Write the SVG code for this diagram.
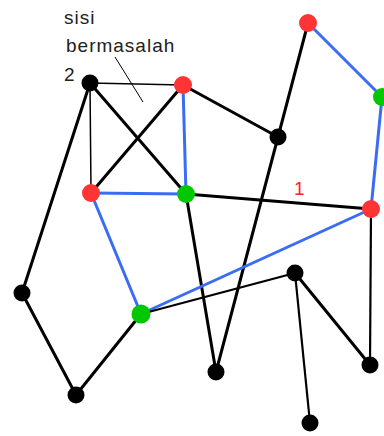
<svg xmlns="http://www.w3.org/2000/svg" width="384" height="436" viewBox="0 0 384 436">
<style>
.e{stroke:#000;stroke-width:3;fill:none;stroke-linecap:round}
.t{stroke:#000;stroke-width:1.5;fill:none}
.m{stroke:#000;stroke-width:2.2;fill:none}
.b{stroke:#3a6cf5;stroke-width:3;fill:none;stroke-linecap:round}
.k{fill:#000}
.r{fill:#ff3535}
.g{fill:#00c800}
.lbl{font-family:"Liberation Sans",Arial,sans-serif;font-size:19px;letter-spacing:1px}
</style>
<rect width="384" height="436" fill="#fff"/>
<g id="connectors">
<line class="t" x1="90" y1="83" x2="183" y2="85"/>
<line class="t" x1="90" y1="83" x2="91" y2="193"/>
<line class="e" x1="90" y1="83" x2="186" y2="194"/>
<line class="e" x1="183" y1="85" x2="91" y2="193"/>
<line class="b" x1="183" y1="85" x2="186" y2="194"/>
<line class="b" x1="91" y1="193" x2="186" y2="194"/>
<line class="e" x1="183" y1="85" x2="278" y2="137"/>
<line class="e" x1="308" y1="23" x2="278" y2="137"/>
<line class="e" x1="278" y1="137" x2="216" y2="372"/>
<line class="e" x1="186" y1="194" x2="216" y2="372"/>
<line class="e" x1="186" y1="194" x2="371" y2="209"/>
<line class="b" x1="308" y1="23" x2="382" y2="97"/>
<line class="b" x1="382" y1="97" x2="371" y2="209"/>
<line class="b" x1="91" y1="193" x2="141" y2="314"/>
<line class="b" x1="141" y1="314" x2="371" y2="209"/>
<line class="e" x1="90" y1="83" x2="22" y2="293"/>
<line class="e" x1="22" y1="293" x2="76" y2="395"/>
<line class="e" x1="76" y1="395" x2="141" y2="314"/>
<line class="m" x1="141" y1="314" x2="295" y2="273"/>
<line class="e" x1="295" y1="273" x2="370" y2="365"/>
<line class="m" x1="295" y1="273" x2="310" y2="423"/>
<line class="m" x1="371" y1="209" x2="370" y2="365"/>
<line stroke="#000" stroke-width="1" x1="115" y1="57" x2="143" y2="102"/>
</g>
<g id="nA"><circle class="k" cx="90" cy="83" r="8.5"/></g>
<g id="nB"><circle class="r" cx="183" cy="85" r="9"/></g>
<g id="nC"><circle class="r" cx="91" cy="193" r="9"/></g>
<g id="nD"><circle class="g" cx="186" cy="194" r="9"/></g>
<g id="nE"><circle class="k" cx="278" cy="137" r="8.5"/></g>
<g id="nF"><circle class="r" cx="308" cy="23" r="9"/></g>
<g id="nG"><circle class="g" cx="382" cy="97" r="9"/></g>
<g id="nH"><circle class="r" cx="371" cy="209" r="9"/></g>
<g id="nI"><circle class="g" cx="141" cy="314" r="9.5"/></g>
<g id="nJ"><circle class="k" cx="22" cy="293" r="8.5"/></g>
<g id="nK"><circle class="k" cx="76" cy="395" r="8.5"/></g>
<g id="nL"><circle class="k" cx="216" cy="372" r="8.5"/></g>
<g id="nM"><circle class="k" cx="295" cy="273" r="8.5"/></g>
<g id="nN"><circle class="k" cx="370" cy="365" r="8.5"/></g>
<g id="nO"><circle class="k" cx="310" cy="423" r="8.5"/></g>
<g id="labels">
<text class="lbl" x="64" y="24" fill="#222">sisi</text>
<text class="lbl" x="66" y="52" fill="#222">bermasalah</text>
<text class="lbl" x="64" y="81" fill="#222">2</text>
<text class="lbl" x="294" y="195" fill="#ff2020">1</text>
</g>
</svg>
